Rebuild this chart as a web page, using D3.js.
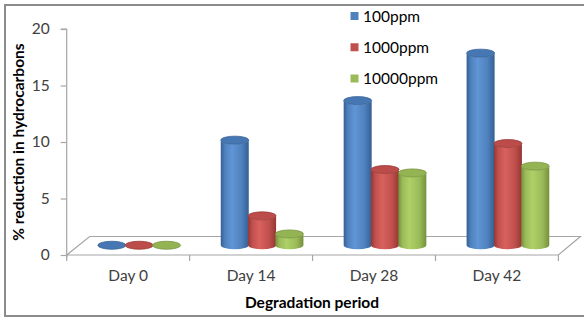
<!DOCTYPE html>
<html><head><meta charset="utf-8">
<script src="https://cdn.jsdelivr.net/npm/d3@7"></script>
<style>body{margin:0;background:#fff}svg{display:block}text{font-family:Lato,"Open Sans",sans-serif}</style>
</head><body><svg id="c" width="584" height="320"></svg>
<script>
const categories = ["Day 0","Day 14","Day 28","Day 42"];
const seriesNames = ["100ppm","1000ppm","10000ppm"];
const s100 = [0, 9.3, 12.8, 17.0];
const s1000 = [0, 2.6, 6.7, 9.0];
const s10000 = [0, 1.0, 6.4, 7.0];
const yTicks = [0,5,10,15,20];
const xTitle = "Degradation period";
const yTitle = "% reduction in hydrocarbons";

const seriesValues = [s100, s1000, s10000];
const colors = [
  {base:"#4F81BD", dark:"#345f93", light:"#6095d6", top:"#4677b3", rim:"#3a6498"},
  {base:"#C0504D", dark:"#953633", light:"#d9615d", top:"#bb4c49", rim:"#9a3b38"},
  {base:"#9BBB59", dark:"#74913b", light:"#aed067", top:"#94b454", rim:"#7a963f"}
];

const svg = d3.select("#c");
// frame
svg.append("rect").attr("x",5).attr("y",5).attr("width",600).attr("height",311)
  .attr("fill","#fff").attr("stroke","#8c8c8c").attr("stroke-width",2);

const plotL = 66.7, plotR = 558.4, plotB = 255, plotT = 29;
const depthX = 22, depthY = -18.5;
const x0 = d3.scaleBand().domain(categories).range([plotL,plotR]).padding(0);
const x1 = d3.scaleBand().domain(seriesNames).range([-41,41]).padding(0);
const y = d3.scaleLinear().domain([0,20]).range([plotB,plotT]);

// gradients
const defs = svg.append("defs");
colors.forEach((c,i)=>{
  const g = defs.append("linearGradient").attr("id","g"+i).attr("x1","0").attr("x2","1").attr("y1","0").attr("y2","0");
  g.append("stop").attr("offset","0").attr("stop-color",c.dark);
  g.append("stop").attr("offset","0.15").attr("stop-color",c.base);
  g.append("stop").attr("offset","0.4").attr("stop-color",c.light);
  g.append("stop").attr("offset","0.75").attr("stop-color",c.base);
  g.append("stop").attr("offset","1").attr("stop-color",c.dark);
});

// floor
const floorPts = [[plotL,plotB],[plotR,plotB],[plotR+depthX,plotB+depthY],[plotL+depthX+1,plotB+depthY]];
svg.append("path").attr("d","M"+floorPts.map(p=>p.join(",")).join("L")+"Z")
  .attr("fill","#fff").attr("stroke","#a6a6a6").attr("stroke-width",1.2);

// x ticks
const xb = categories.map(c=>x0(c)).concat([plotR]);
svg.selectAll(".xt").data(xb).join("line")
  .attr("x1",d=>d).attr("x2",d=>d).attr("y1",plotB).attr("y2",plotB+6)
  .attr("stroke","#a6a6a6").attr("stroke-width",1.2);

// y axis
const yAxis = d3.axisLeft(y).tickValues(yTicks).tickSize(6).tickPadding(11);
const ya = svg.append("g").attr("transform",`translate(${plotL},0)`).call(yAxis);
ya.select(".domain").attr("stroke","#a6a6a6").attr("stroke-width",1.2).attr("d",`M-6,${plotT}H0V${plotB+3}`);
ya.selectAll(".tick line").attr("stroke","#a6a6a6").attr("stroke-width",1.2);
ya.selectAll(".tick text").attr("font-size",15.5).attr("fill","#404040").attr("font-family","Lato");

// cylinders
const rx = 14, ry = 4;
const midShift = depthX/2, midShiftY = depthY/2 - 0.5;
const bars = [];
categories.forEach((c,ci)=>{
  seriesNames.forEach((s,si)=>{
    bars.push({c, s, si, v: seriesValues[si][ci]});
  });
});
const gb = svg.append("g");
bars.forEach(b=>{
  const cx = x0(b.c) + x0.bandwidth()/2 + midShift + x1(b.s) + x1.bandwidth()/2;
  const yb = y(0) + midShiftY;
  const yt = y(b.v) + midShiftY;
  const col = colors[b.si];
  if (yb - yt > 0.5) {
    gb.append("path")
      .attr("d",`M${cx-rx},${yt}L${cx-rx},${yb}A${rx},${ry} 0 0 0 ${cx+rx},${yb}L${cx+rx},${yt}A${rx},${ry} 0 0 1 ${cx-rx},${yt}Z`)
      .attr("fill",`url(#g${b.si})`);
  }
  gb.append("ellipse").attr("cx",cx).attr("cy",yt).attr("rx",rx).attr("ry",ry)
    .attr("fill",col.top).attr("stroke",col.rim).attr("stroke-width",0.8);
});

// category labels
svg.selectAll(".xl").data(categories).join("text")
  .attr("x",d=>x0(d)+x0.bandwidth()/2).attr("y",281)
  .attr("text-anchor","middle").attr("font-size",15.5).attr("fill","#404040").text(d=>d);

// titles
svg.append("text").attr("x",312).attr("y",308).attr("text-anchor","middle")
  .attr("font-size",15.5).attr("font-weight","bold").attr("fill","#000").text(xTitle);
svg.append("text").attr("transform","translate(24,142) rotate(-90)").attr("text-anchor","middle")
  .attr("font-size",15.5).attr("font-weight","bold").attr("fill","#000").text(yTitle);

// legend
const legY = d3.scalePoint().domain(seriesNames).range([16,78.5]);
const lg = svg.append("g");
seriesNames.forEach((s,i)=>{
  lg.append("rect").attr("x",350.5).attr("y",legY(s)-4).attr("width",8).attr("height",8).attr("fill",colors[i].base);
  lg.append("text").attr("x",363).attr("y",legY(s)+5.5).attr("font-size",15.5).attr("fill","#000").text(s);
});
</script></body></html>
